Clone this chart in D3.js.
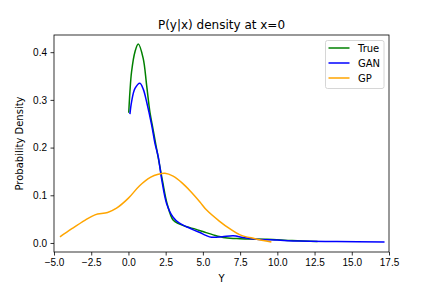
<!DOCTYPE html>
<html>
<head>
<meta charset="utf-8">
<script src="https://cdn.jsdelivr.net/npm/d3@7"></script>
<style>
  body { margin: 0; background: #fff; }
  svg { font-family: "DejaVu Sans", sans-serif; }
  .axis path, .axis line { stroke: #000; stroke-width: 0.8; }
  .axis text { font-size: 10px; fill: #000; }
  .line { fill: none; stroke-width: 1.5; }
</style>
</head>
<body>
<div id="chart"></div>
<script>
// values
var trueX = [0.02, 0.1, 0.21, 0.44, 0.66, 0.99, 1.22, 1.44, 1.66, 2.0, 2.3, 2.6, 3.0, 3.4, 3.9, 4.5, 5.0, 5.7, 6.5, 7.5, 9.3, 11.0, 12.7];
var trueY = [0.273, 0.317, 0.359, 0.401, 0.417, 0.387, 0.331, 0.275, 0.237, 0.179, 0.128, 0.082, 0.048, 0.04, 0.034, 0.029, 0.024, 0.017, 0.011, 0.009, 0.008, 0.005, 0.003];

var ganX = [0.1, 0.21, 0.44, 0.77, 1.0, 1.22, 1.56, 1.78, 2.0, 2.23, 2.56, 3.0, 3.4, 3.9, 4.4, 4.8, 5.2, 5.58, 6.3, 7.03, 7.8, 8.6, 10.0, 11.5, 14.0, 17.2];
var ganY = [0.27, 0.296, 0.324, 0.335, 0.322, 0.296, 0.247, 0.209, 0.181, 0.134, 0.083, 0.054, 0.042, 0.034, 0.027, 0.022, 0.016, 0.012, 0.013, 0.015, 0.011, 0.008, 0.006, 0.004, 0.003, 0.002];

var gpX = [-4.6, -3.8, -2.9, -2.25, -1.4, -0.8, 0.0, 0.75, 1.5, 2.0, 2.45, 3.0, 3.6, 4.15, 4.8, 5.25, 6.1, 6.8, 7.5, 8.5, 9.6];
var gpY = [0.013, 0.03, 0.048, 0.059, 0.064, 0.073, 0.094, 0.12, 0.138, 0.144, 0.146, 0.14, 0.126, 0.109, 0.086, 0.069, 0.046, 0.03, 0.017, 0.009, 0.002];

var seriesNames = ["True", "GAN", "GP"];
var seriesColors = ["#008000", "#0000ff", "#ffa500"];
var xTicks = [-5, -2.5, 0, 2.5, 5, 7.5, 10, 12.5, 15, 17.5];
var yTicks = [0, 0.1, 0.2, 0.3, 0.4];

var svgW = 432, svgH = 288;
var margin = {top: 35, right: 43, bottom: 36, left: 54};
var width = svgW - margin.left - margin.right;
var height = svgH - margin.top - margin.bottom;

var x = d3.scaleLinear().domain([-5, 17.5]).range([0, width]);
var y = d3.scaleLinear().domain([-0.0189, 0.436]).range([height, 0]);

var svg = d3.select("#chart").append("svg")
    .attr("width", svgW)
    .attr("height", svgH);

var g = svg.append("g")
    .attr("transform", "translate(" + margin.left + "," + margin.top + ")");

var series = [
    {xs: trueX, ys: trueY},
    {xs: ganX, ys: ganY},
    {xs: gpX, ys: gpY}
];

var line = d3.line()
    .x(function(d) { return x(d[0]); })
    .y(function(d) { return y(d[1]); })
    .curve(d3.curveCatmullRom.alpha(0.5));

series.forEach(function(s, i) {
    g.append("path")
        .attr("class", "line")
        .attr("stroke", seriesColors[i])
        .attr("d", line(d3.zip(s.xs, s.ys)));
});

// axes
g.append("g")
    .attr("class", "x axis")
    .attr("transform", "translate(0," + height + ")")
    .call(d3.axisBottom(x).tickValues(xTicks).tickFormat(d3.format(".1f")).tickSize(3.5).tickPadding(3.5));

g.append("g")
    .attr("class", "y axis")
    .call(d3.axisLeft(y).tickValues(yTicks).tickFormat(d3.format(".1f")).tickSize(3.5).tickPadding(3.5));

g.selectAll(".axis .domain").remove();

// frame
g.append("rect")
    .attr("width", width)
    .attr("height", height)
    .attr("fill", "none")
    .attr("stroke", "#000")
    .attr("stroke-width", 0.8);

// titles
svg.append("text")
    .attr("x", margin.left + width / 2)
    .attr("y", 29)
    .attr("text-anchor", "middle")
    .style("font-size", "12px")
    .text("P(y|x) density at x=0");

svg.append("text")
    .attr("x", margin.left + width / 2)
    .attr("y", 282)
    .attr("text-anchor", "middle")
    .style("font-size", "10px")
    .text("Y");

svg.append("text")
    .attr("transform", "translate(23," + (margin.top + height / 2) + ") rotate(-90)")
    .attr("text-anchor", "middle")
    .style("font-size", "10px")
    .text("Probability Density");

// legend
var legend = g.append("g")
    .attr("transform", "translate(" + (width - 63.5) + ",5.5)");

legend.append("rect")
    .attr("width", 58.5)
    .attr("height", 48)
    .attr("rx", 2)
    .attr("fill", "#fff")
    .attr("stroke", "#ccc")
    .attr("stroke-width", 0.8);

seriesNames.forEach(function(name, i) {
    var row = legend.append("g")
        .attr("transform", "translate(0," + (7.5 + i * 15) + ")");
    row.append("line")
        .attr("x1", 3).attr("x2", 24)
        .attr("stroke", seriesColors[i])
        .attr("stroke-width", 1.5);
    row.append("text")
        .attr("x", 32.5)
        .attr("dy", "0.35em")
        .style("font-size", "10px")
        .text(name);
});
</script>
</body>
</html>
